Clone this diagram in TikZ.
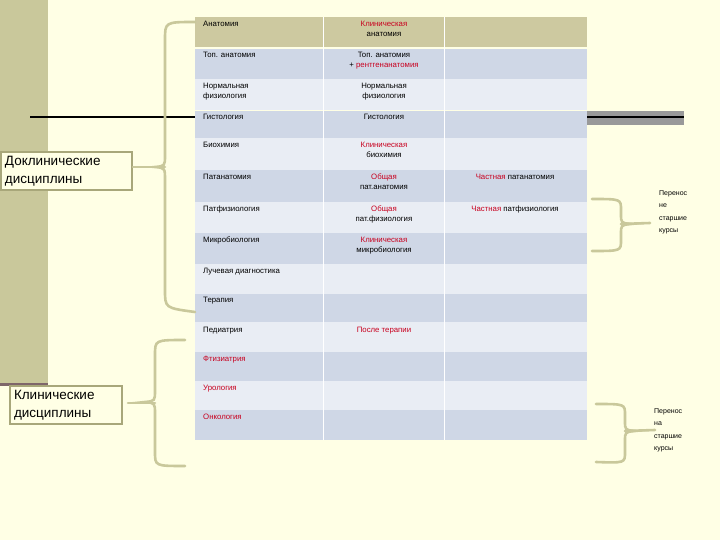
\documentclass[tikz,border=0pt]{standalone}
\usepackage{fontspec}
\setmainfont{Liberation Sans}
\begin{document}
\begin{tikzpicture}[x=1pt,y=-1pt,
  cell/.style={font=\fontsize{7.8}{10}\selectfont,inner sep=0pt,align=left,anchor=north west},
  ccell/.style={font=\fontsize{7.8}{10}\selectfont,inner sep=0pt,align=center,anchor=north},
  brace/.style={draw=olv,line width=2.6pt,line cap=round},
  side/.style={font=\fontsize{13.5}{18}\selectfont,inner sep=4pt,align=left,draw=olvd,line width=2pt,fill=bg,anchor=north west,text width=123pt},
  note/.style={font=\fontsize{7}{12.5}\selectfont,inner sep=0pt,align=left,anchor=north west}]
\definecolor{bg}{HTML}{FFFFE5}
\definecolor{olv}{HTML}{C9C89B}
\definecolor{olvd}{HTML}{A8A77A}
\definecolor{hdr}{HTML}{CDC9A0}
\definecolor{rd}{HTML}{CFD7E6}
\definecolor{rl}{HTML}{E9EDF4}
\definecolor{red}{HTML}{C8001E}
\fill[bg] (0,0) rectangle (720,540);
\useasboundingbox (0,0) rectangle (720,540);
\fill[olv] (0,0) rectangle (48,385);
\fill[black!80!red!60] (0,383) rectangle (48,386);
% table rows
\fill[hdr] (195,17) rectangle (587,47);
\foreach \a/\b/\c in {49/79/rd,79/110/rl,111/138/rd,138/170/rl,170/202/rd,202/233/rl,233/264/rd,264/294/rl,294/322/rd,322/352/rl,352/381/rd,381/410/rl,410/440/rd}
  \fill[\c] (195,\a) rectangle (587,\b);
\draw[white,line width=0.8pt] (323,17) -- (323,440) (444,17) -- (444,440);
% lines
\draw[line width=1.4pt] (30,117) -- (195,117);
\fill[black!40] (587,111) rectangle (684,125);
\draw[line width=1.4pt] (587,117) -- (684,117);
% column 1
\foreach \y/\t in {21/Анатомия,52/Топ. анатомия,83/{Нормальная\\физиология},114/Гистология,142/Биохимия,174/Патанатомия,206/Патфизиология,237/Микробиология,268/Лучевая диагностика,297/Терапия,327/Педиатрия}
  \node[cell] (c\y) at (203,\y) {\t};
\foreach \y/\t in {356/Фтизиатрия,385/Урология,414/Онкология}
  \node[cell,text=red] (r\y) at (203,\y) {\t};
% column 2
\node[ccell] (m1) at (384,21) {\textcolor{red}{Клиническая}\\анатомия};
\node[ccell] (m2) at (384,52) {Топ. анатомия\\+ \textcolor{red}{рентгенанатомия}};
\node[ccell] (m3) at (384,83) {Нормальная\\физиология};
\node[ccell] (m4) at (384,114) {Гистология};
\node[ccell] (m5) at (384,142) {\textcolor{red}{Клиническая}\\биохимия};
\node[ccell] (m6) at (384,174) {\textcolor{red}{Общая}\\пат.анатомия};
\node[ccell] (m7) at (384,206) {\textcolor{red}{Общая}\\пат.физиология};
\node[ccell] (m8) at (384,237) {\textcolor{red}{Клиническая}\\микробиология};
\node[ccell,text=red] (m9) at (384,327) {После терапии};
% column 3
\node[ccell] (t1) at (515,174) {\textcolor{red}{Частная} патанатомия};
\node[ccell] (t2) at (515,206) {\textcolor{red}{Частная} патфизиология};
% side boxes
\node[side] (pre) at (0,151) {Доклинические\\дисциплины};
\node[side,text width=104pt] (cli) at (9,385) {Клинические\\дисциплины};
% braces
\draw[brace] (195,22) .. controls (165,22) .. (165,40) -- (165,155) .. controls (165,166) .. (155,167) .. controls (165,168) .. (165,180) -- (165,290) .. controls (165,308) .. (195,312);
\draw[brace] (133,167) -- (165,167);
\draw[brace] (185,340) .. controls (155,340) .. (155,355) -- (155,390) .. controls (155,401) .. (145,402) .. controls (155,403) .. (155,414) -- (155,452) .. controls (155,466) .. (185,466);
\draw[brace] (128,403) -- (155,403);
\draw[brace] (592,199) .. controls (621,199) .. (621,210) -- (621,214) .. controls (621,223) .. (631,224) .. controls (621,225) .. (621,234) -- (621,240) .. controls (621,251) .. (592,251);
\draw[brace] (621,224) -- (650,223);
\draw[brace] (596,404) .. controls (625,404) .. (625,415) -- (625,421) .. controls (625,430) .. (635,431) .. controls (625,432) .. (625,441) -- (625,452) .. controls (625,463) .. (596,462);
\draw[brace] (625,431) -- (655,430);
\node[note] (n1) at (659,190) {Перенос\\не\\старшие\\курсы};
\node[note] (n2) at (654,408) {Перенос\\на\\старшие\\курсы};
\end{tikzpicture}
\end{document}
